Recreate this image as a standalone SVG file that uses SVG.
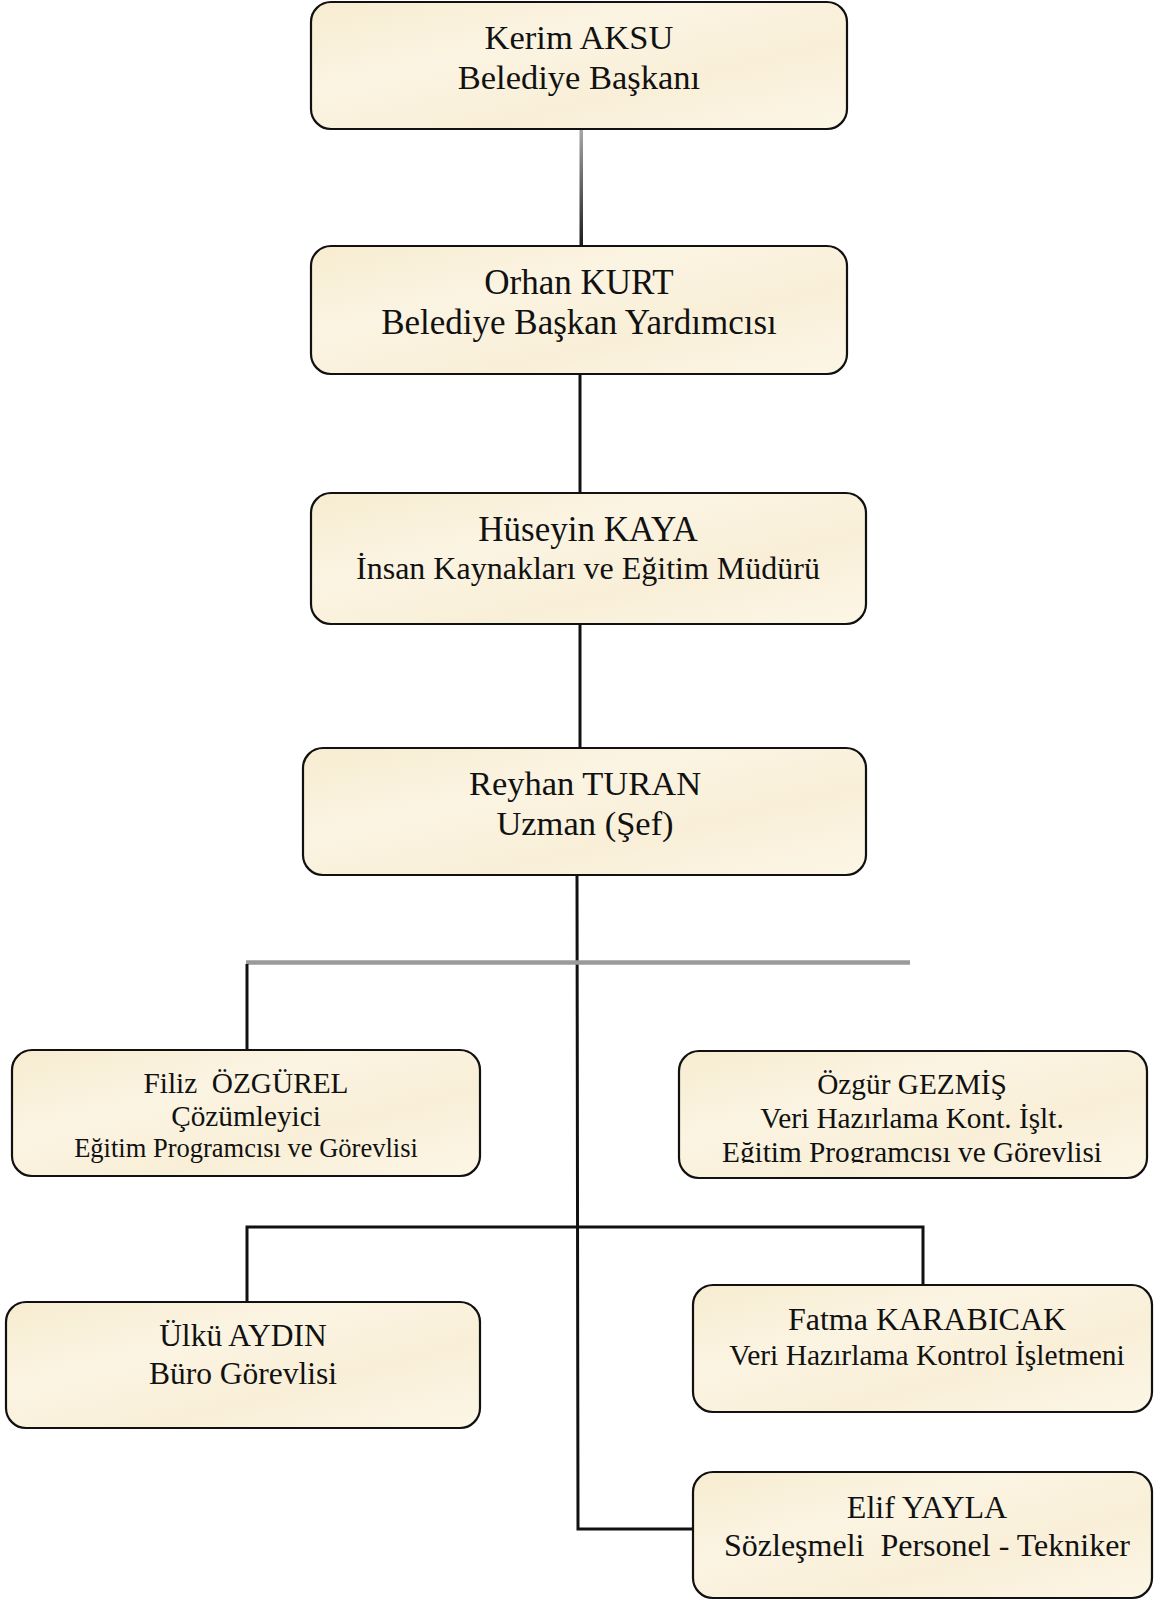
<svg xmlns="http://www.w3.org/2000/svg" width="1155" height="1601" viewBox="0 0 1155 1601">
<style>
.box{fill:url(#parch);stroke:#111;stroke-width:2.2}
.t{font-family:"Liberation Serif","Times New Roman",serif;fill:#111;text-anchor:middle}
.c{fill:none;stroke:#111;stroke-width:3}
</style>
<defs>
<linearGradient id="parch" x1="0" y1="0" x2="1" y2="1">
<stop offset="0" stop-color="#f7ecd0"/>
<stop offset="0.35" stop-color="#fbf4e2"/>
<stop offset="0.65" stop-color="#f9efd8"/>
<stop offset="1" stop-color="#fcf6e6"/>
</linearGradient>
<linearGradient id="gline" x1="0" y1="0" x2="0" y2="1">
<stop offset="0" stop-color="#a8a8a8"/>
<stop offset="1" stop-color="#1a1a1a"/>
</linearGradient>
<clipPath id="clipOz"><rect x="679" y="1051" width="470" height="112"/></clipPath>
</defs>

<g id="connectors">
<rect x="579.5" y="129" width="3.5" height="117" fill="url(#gline)"/>
<line class="c" x1="580" y1="374" x2="580" y2="493"/>
<line class="c" x1="580" y1="624" x2="580" y2="748"/>
<polyline class="c" points="577,875 578,1529 693,1529"/>
<line x1="246" y1="962.5" x2="910" y2="962.5" stroke="#9a9a9a" stroke-width="4.5"/>
<line class="c" x1="247" y1="964" x2="247" y2="1050"/>
<polyline class="c" points="247,1302 247,1227 923,1227 923,1285"/>
</g>

<g id="n1">
<rect class="box" x="311" y="2" width="536" height="127" rx="20"/>
<text class="t" x="579" y="49" font-size="34.5">Kerim AKSU</text>
<text class="t" x="579" y="89" font-size="34.5">Belediye Başkanı</text>
</g>

<g id="n2">
<rect class="box" x="311" y="246" width="536" height="128" rx="20"/>
<text class="t" x="579" y="294" font-size="35">Orhan KURT</text>
<text class="t" x="579" y="334" font-size="35">Belediye Başkan Yardımcısı</text>
</g>

<g id="n3">
<rect class="box" x="311" y="493" width="555" height="131" rx="20"/>
<text class="t" x="588" y="541" font-size="35">Hüseyin KAYA</text>
<text class="t" x="588" y="579" font-size="32">İnsan Kaynakları ve Eğitim Müdürü</text>
</g>

<g id="n4">
<rect class="box" x="303" y="748" width="563" height="127" rx="20"/>
<text class="t" x="585" y="795" font-size="34.5">Reyhan TURAN</text>
<text class="t" x="585" y="835" font-size="34.5">Uzman (Şef)</text>
</g>

<g id="n5">
<rect class="box" x="12" y="1050" width="468" height="126" rx="20"/>
<text class="t" x="246" y="1093" font-size="29.3" xml:space="preserve">Filiz  ÖZGÜREL</text>
<text class="t" x="246" y="1126" font-size="29.3">Çözümleyici</text>
<text class="t" x="246" y="1157" font-size="26.5">Eğitim Programcısı ve Görevlisi</text>
</g>

<g id="n6">
<rect class="box" x="679" y="1051" width="468" height="127" rx="20"/>
<text class="t" x="912" y="1094" font-size="29.3">Özgür GEZMİŞ</text>
<text class="t" x="912" y="1128" font-size="29.3">Veri Hazırlama Kont. İşlt.</text>
<text class="t" x="912" y="1162" font-size="29.3" clip-path="url(#clipOz)">Eğitim Programcısı ve Görevlisi</text>
</g>

<g id="n7">
<rect class="box" x="6" y="1302" width="474" height="126" rx="20"/>
<text class="t" x="243" y="1346" font-size="31.5">Ülkü AYDIN</text>
<text class="t" x="243" y="1384" font-size="31.5">Büro Görevlisi</text>
</g>

<g id="n8">
<rect class="box" x="693" y="1285" width="459" height="127" rx="20"/>
<text class="t" x="927" y="1330" font-size="32">Fatma KARABICAK</text>
<text class="t" x="927" y="1365" font-size="29.5">Veri Hazırlama Kontrol İşletmeni</text>
</g>

<g id="n9">
<rect class="box" x="693" y="1472" width="459" height="126" rx="20"/>
<text class="t" x="927" y="1518" font-size="32">Elif YAYLA</text>
<text class="t" x="927" y="1556" font-size="32" xml:space="preserve">Sözleşmeli  Personel - Tekniker</text>
</g>
</svg>
